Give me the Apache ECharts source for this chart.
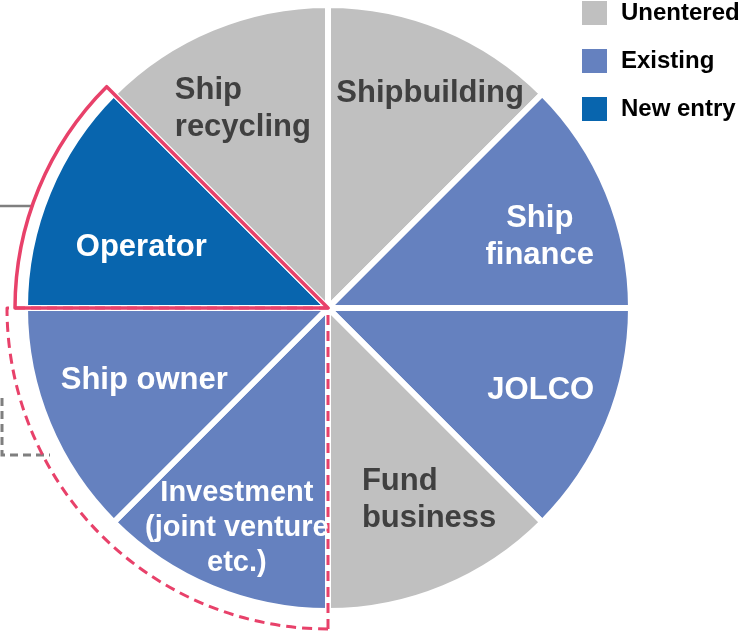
<!DOCTYPE html>
<html lang="en">
  <head>
    <meta charset="UTF-8" />
    <title>Business areas</title>
    <script src="https://cdn.jsdelivr.net/npm/echarts@6/dist/echarts.min.js"></script>
    <style>
      html, body { margin: 0; padding: 0; background: #fff; }
    </style>
  </head>
  <body>
    <div id="pie" style="width: 742px; height: 635px"></div>
  </body>
  <script>
    // slices clockwise from 12 o'clock
    const slices = [
      "Shipbuilding",
      "Ship\nfinance",
      "JOLCO",
      "Fund\nbusiness",
      "Investment\n(joint venture\netc.)",
      "Ship owner",
      "Operator",
      "Ship\nrecycling",
    ];
    const status = [
      "Unentered",
      "Existing",
      "Existing",
      "Unentered",
      "Existing",
      "Existing",
      "New entry",
      "Unentered",
    ];
    const shares = [1, 1, 1, 1, 1, 1, 1, 1];
    const categories = ["Unentered", "Existing", "New entry"];
    // highlighted groups (slice indexes, inclusive)
    const newEntryGroup = [6, 6];
    const targetGroup = [4, 5];

    // styling
    const colors = { Unentered: "#c0c0c0", Existing: "#6581bf", "New entry": "#0865ae" };
    const textColors = { Unentered: "#404040", Existing: "#fff", "New entry": "#fff" };
    const leftAligned = [3, 7];
    const smallText = [4];
    // label nudges from the default inner position
    const labelShift = [
      [43, -72], [69, -12], [70, 23], [42, 49],
      [-32, 77], [-41, 13], [-44, -1], [-26, -56],
    ];
    const pink = "#e8416a";
    const font = "Liberation Sans, Arial, sans-serif";
    const center = [328, 308];

    const sum = (a) => a.reduce((s, v) => s + v, 0);

    let pieData = slices.map((name, i) => {
      let tag = leftAligned.includes(i) ? "l" : "c";
      if (smallText.includes(i)) tag = "s";
      return {
        name: status[i],
        value: shares[i],
        itemStyle: { color: colors[status[i]] },
        label: {
          color: textColors[status[i]],
          formatter: name.split("\n").map((s) => "{" + tag + "|" + s + "}").join("\n"),
        },
      };
    });

    // outline pie: one visible sector spanning a group of slices
    function outlineData(group) {
      let hidden = { color: "transparent", borderWidth: 0 };
      return [
        { value: sum(shares.slice(0, group[0])), itemStyle: hidden },
        { value: sum(shares.slice(group[0], group[1] + 1)) },
        { value: sum(shares.slice(group[1] + 1)), itemStyle: hidden },
      ];
    }

    let richBase = { fontSize: 31, fontWeight: "bold", fontFamily: font, lineHeight: 37 };

    let chart = echarts.init(document.getElementById("pie"));
    chart.setOption({
      backgroundColor: "#fff",
      animation: false,
      legend: {
        orient: "vertical",
        left: 580,
        top: -1,
        padding: 0,
        data: categories,
        icon: "rect",
        itemWidth: 27,
        itemHeight: 26,
        itemGap: 20,
        selectedMode: false,
        textStyle: {
          fontSize: 24,
          fontWeight: "bold",
          fontFamily: font,
          color: "#000",
          padding: [0, 0, 0, 8],
        },
      },
      graphic: [
        {
          type: "line",
          silent: true,
          shape: { x1: 0, y1: 206, x2: 33, y2: 206 },
          style: { stroke: "#7f7f7f", lineWidth: 2.5 },
        },
        {
          type: "polyline",
          silent: true,
          shape: { points: [[2, 398], [2, 455], [50, 455]] },
          style: { stroke: "#7f7f7f", lineWidth: 3, lineDash: [8, 5], fill: null },
        },
      ],
      series: [
        {
          type: "pie",
          center: center,
          radius: [0, 303],
          startAngle: 90,
          clockwise: true,
          avoidLabelOverlap: false,
          silent: true,
          emphasis: { disabled: true },
          itemStyle: { borderColor: "#fff", borderWidth: 6 },
          label: {
            position: "inside",
            fontSize: 31,
            fontWeight: "bold",
            fontFamily: font,
            lineHeight: 37,
            rich: {
              l: Object.assign({}, richBase, { align: "left" }),
              c: Object.assign({}, richBase, { align: "center" }),
              s: Object.assign({}, richBase, { align: "center", fontSize: 29, lineHeight: 35 }),
            },
          },
          labelLine: { show: false },
          labelLayout: function (p) {
            let s = labelShift[p.dataIndex];
            return { dx: s[0], dy: s[1] };
          },
          data: pieData,
        },
        {
          type: "pie",
          center: center,
          radius: [0, 321],
          startAngle: 90,
          clockwise: true,
          silent: true,
          emphasis: { disabled: true },
          label: { show: false },
          itemStyle: {
            color: "transparent",
            borderColor: pink,
            borderWidth: 3,
            borderType: [10, 6],
          },
          data: outlineData(targetGroup),
        },
        {
          type: "pie",
          center: center,
          radius: [0, 313],
          startAngle: 90,
          clockwise: true,
          silent: true,
          emphasis: { disabled: true },
          label: { show: false },
          itemStyle: {
            color: "transparent",
            borderColor: pink,
            borderWidth: 3.5,
          },
          data: outlineData(newEntryGroup),
        },
      ],
    });
  </script>
</html>
